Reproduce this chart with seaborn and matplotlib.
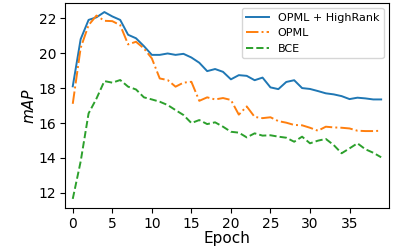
import numpy as np
import pandas as pd
import seaborn as sns
import matplotlib.pyplot as plt

epochs = list(range(40))
opml_highrank = [18.1, 20.8, 21.9, 22.05, 22.35, 22.1, 21.9, 21.05, 20.85, 20.4,
                 19.9, 19.9, 19.98, 19.9, 19.96, 19.75, 19.45, 18.97, 19.09, 18.93,
                 18.5, 18.74, 18.7, 18.45, 18.6, 18.04, 17.94, 18.35, 18.45, 18.0,
                 17.95, 17.83, 17.7, 17.64, 17.54, 17.37, 17.45, 17.41, 17.35, 17.35]
opml = [17.1, 20.3, 21.6, 22.15, 21.85, 21.83, 21.6, 20.5, 20.65, 20.27,
        19.7, 18.55, 18.46, 18.08, 18.31, 18.36, 17.27, 17.47, 17.35, 17.43,
        17.32, 16.48, 16.95, 16.35, 16.28, 16.33, 16.11, 16.02, 15.89, 15.87,
        15.73, 15.56, 15.79, 15.75, 15.73, 15.69, 15.56, 15.54, 15.54, 15.56]
bce = [11.66, 13.8, 16.55, 17.4, 18.4, 18.31, 18.46, 18.08, 17.92, 17.47,
       17.35, 17.22, 17.03, 16.74, 16.46, 16.0, 16.17, 15.94, 16.04, 15.79,
       15.5, 15.45, 15.18, 15.41, 15.28, 15.3, 15.22, 15.16, 14.93, 15.22,
       14.84, 14.99, 15.09, 14.74, 14.27, 14.55, 14.84, 14.5, 14.3, 14.04]

labels = ["OPML + HighRank", "OPML", "BCE"]
colors = ["#1f77b4", "#ff7f0e", "#2ca02c"]
styles = ["-", "-.", "--"]

fig, ax = plt.subplots(figsize=(3.93, 2.47), dpi=100)
for vals, lab, c, ls in zip([opml_highrank, opml, bce], labels, colors, styles):
    sns.lineplot(x=epochs, y=vals, ax=ax, label=lab, color=c, linestyle=ls, linewidth=1.4)

ax.set_xlim(-1, 40)
ax.margins(y=0.05)
ax.set_xticks([0, 5, 10, 15, 20, 25, 30, 35])
ax.set_yticks([12, 14, 16, 18, 20, 22])
ax.tick_params(labelsize=10, pad=2.5)
ax.set_xlabel("Epoch", fontsize=11, labelpad=0.5)
ax.set_ylabel("mAP", fontsize=11, fontstyle="italic", labelpad=2)
ax.legend(loc="upper right", fontsize=8)
plt.subplots_adjust(left=0.165, right=0.99, top=0.989, bottom=0.157)
plt.savefig("out.png", dpi=100)
